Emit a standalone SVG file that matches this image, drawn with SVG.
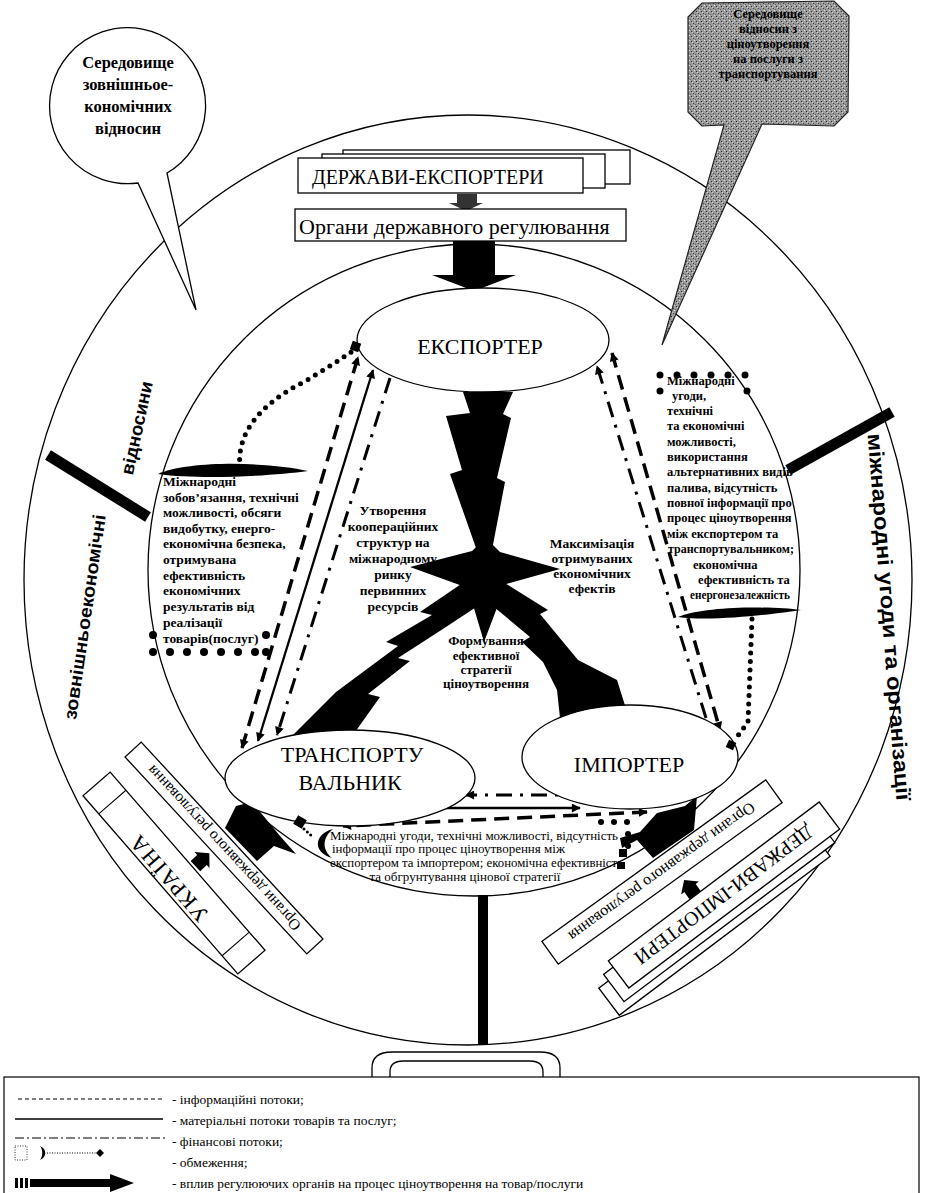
<svg xmlns="http://www.w3.org/2000/svg" width="925" height="1193" viewBox="0 0 925 1193">
<defs>
<style>
.ring{fill:none;stroke:#000;stroke-width:1.3}
.box{fill:#fff;stroke:#000;stroke-width:1.3}
.node{fill:#fff;stroke:#000;stroke-width:1.3}
.s{font-family:"Liberation Serif","Times New Roman",serif;fill:#000}
.b{font-weight:bold}
.sans{font-family:"Liberation Sans",Arial,sans-serif;font-weight:bold;fill:#000}
.info{fill:none;stroke:#000;stroke-width:3.5;stroke-dasharray:15 8}
.mat{fill:none;stroke:#000;stroke-width:2.3}
.fin{fill:none;stroke:#000;stroke-width:3;stroke-dasharray:16 8 3 8}
.dots{fill:none;stroke:#000;stroke-width:5;stroke-linecap:round;stroke-dasharray:0 8.5}
.blk{fill:#000}
.thin{fill:none;stroke:#000;stroke-width:1}
</style>
<marker id="ah" viewBox="0 0 10 10" refX="9" refY="5" markerWidth="11" markerHeight="9" markerUnits="userSpaceOnUse" orient="auto-start-reverse"><path d="M0,0 L10,5 L0,10 Z" fill="#000"/></marker>
<pattern id="stip" width="5" height="5" patternUnits="userSpaceOnUse"><rect width="5" height="5" fill="#9a9a9a"/><rect x="1" y="1" width="1" height="1" fill="#2a2a2a"/><rect x="3" y="3" width="1" height="1" fill="#444"/><rect x="4" y="0" width="1" height="1" fill="#e0e0e0"/><rect x="0" y="4" width="1" height="1" fill="#666"/><rect x="2" y="2" width="1" height="1" fill="#d0d0d0"/></pattern>
</defs>
<rect width="925" height="1193" fill="#fff"/>

<g id="rings">
<ellipse cx="468" cy="580" rx="444" ry="465" class="ring"/>
<circle cx="474" cy="570" r="326" class="ring"/>
<path d="M48,455 L148,517" stroke="#000" stroke-width="11"/>
<path d="M788,470 L892,412" stroke="#000" stroke-width="11"/>
<rect x="478" y="895" width="10" height="150" class="blk"/>
<text class="sans" font-size="18" text-anchor="middle" textLength="207" lengthAdjust="spacingAndGlyphs" transform="translate(85,617) rotate(-81.7)" x="0" y="6">зовнішньоекономічні</text>
<text class="sans" font-size="18" text-anchor="middle" textLength="95" lengthAdjust="spacingAndGlyphs" transform="translate(137,428) rotate(-77.8)" x="0" y="6">відносини</text>
<text class="sans" font-size="21" text-anchor="middle" textLength="368" lengthAdjust="spacingAndGlyphs" transform="translate(889,617) rotate(85.5)" x="0" y="7">міжнародні угоди та організації</text>
<path d="M372,1078 V1068 Q372,1052 392,1052 H540 Q560,1052 560,1068 V1078" class="ring"/>
<path d="M390,1078 V1072 Q390,1061 403,1061 H530 Q543,1061 543,1072 V1078" class="ring"/>
</g>

<g id="connectors">
<path d="M242,748 L358,357" class="info" marker-start="url(#ah)" marker-end="url(#ah)"/>
<path d="M258,741 L373,370" class="mat" marker-start="url(#ah)" marker-end="url(#ah)"/>
<path d="M390,378 L277,735" class="fin" marker-end="url(#ah)"/>
<path d="M612,353 L720,730" class="info" marker-start="url(#ah)" marker-end="url(#ah)"/>
<path d="M706,718 L597,366" class="fin" marker-end="url(#ah)"/>
<path d="M582,795 L466,795" class="fin" marker-end="url(#ah)"/>
<path d="M446,808 L580,808" class="mat" marker-end="url(#ah)"/>
<path d="M647,812 L343,826" class="info" marker-start="url(#ah)" marker-end="url(#ah)"/>
<polygon points="457,194 477,194 477,203 483,203 466,211 449,203 457,203" fill="#333"/>
<polygon points="453,241 495,241 495,275 516,275 474,291 432,275 453,275" class="blk"/>
<polygon points="236,806 252,802 280,836 296,854 274,846 257,861 225,828" class="blk"/>
<polygon points="657,813 685,806 697,796 694,830 653,858 637,840 622,848 620,838 640,832" class="blk"/>
<polygon transform="translate(202,860) rotate(47)" points="-7,9 7,9 7,0 11,0 0,-10 -11,0 -7,0" class="blk"/>
<polygon transform="translate(690,888) rotate(-36)" points="-7,9 7,9 7,0 11,0 0,-10 -11,0 -7,0" class="blk"/>
</g>

<g id="strategy-bolts">
<polygon points="463,392 513,392 503,414 511,418 497,478 505,482 492,550 476,548 450,474 462,470 446,416 470,413" class="blk"/>
<polygon points="410,567 472,551 486,538 500,552 560,569 506,584 484,642 468,588" class="blk"/>
<polygon points="470,578 420,612 432,615 386,642 398,646 336,692 288,740 348,742 380,697 368,694 410,661 398,658 446,627 505,588" class="blk"/>
<polygon points="500,580 548,610 540,614 578,660 617,680 628,715 560,718 557,690 543,662 522,642 530,637 488,602" class="blk"/>
</g>

<g id="exporter">
<ellipse cx="483" cy="340" rx="126" ry="52" class="node"/>
<text x="480" y="354" font-size="22" text-anchor="middle" class="s">ЕКСПОРТЕР</text>
</g>
<g id="transporter">
<ellipse cx="350" cy="778" rx="125" ry="48" class="node"/>
<text x="352" y="762" font-size="22" text-anchor="middle" class="s">ТРАНСПОРТУ</text>
<text x="350" y="790" font-size="22" text-anchor="middle" class="s">ВАЛЬНИК</text>
</g>
<g id="importer">
<ellipse cx="630" cy="757" rx="108" ry="52" class="node"/>
<text x="629" y="772" font-size="22" text-anchor="middle" class="s">ІМПОРТЕР</text>
</g>

<g id="states-exporters">
<rect x="343" y="150" width="287" height="34" class="box"/>
<rect x="322" y="154" width="283" height="34" class="box"/>
<rect x="298" y="158" width="285" height="35" class="box"/>
<text x="312" y="184" font-size="20" class="s">ДЕРЖАВИ-ЕКСПОРТЕРИ</text>
</g>
<g id="regulators-exporters">
<rect x="295" y="209" width="331" height="32" class="box"/>
<text x="299" y="234" font-size="22" class="s">Органи державного регулювання</text>
</g>
<g id="regulators-ukraine" transform="translate(224,848) rotate(47.3)">
<rect x="-134" y="-11" width="268" height="22" class="box"/>
<text transform="rotate(180)" x="0" y="5" font-size="15.5" text-anchor="middle" class="s">Органи державного регулювання</text>
</g>
<g id="ukraine" transform="translate(174,873) rotate(49)">
<rect x="-118" y="-18" width="236" height="36" class="box"/>
<path d="M-94,-18 V18 M94,-18 V18" class="thin"/>
<text transform="rotate(180)" x="0" y="0" font-size="22" letter-spacing="2" text-anchor="middle" class="s">УКРАЇНА</text>
</g>
<g id="regulators-importers" transform="translate(662,872) rotate(-35.8)">
<rect x="-138" y="-14" width="276" height="28" class="box"/>
<text transform="rotate(180)" x="0" y="5.5" font-size="16" text-anchor="middle" class="s">Органи державного регулювання</text>
</g>
<g id="states-importers" transform="translate(724,895) rotate(-37)">
<rect x="-156" y="-1" width="264" height="34" class="box"/>
<rect x="-144" y="-9" width="264" height="34" class="box"/>
<rect x="-132" y="-17" width="264" height="34" class="box"/>
<text transform="rotate(180)" x="0" y="7" font-size="20" text-anchor="middle" class="s">ДЕРЖАВИ-ІМПОРТЕРИ</text>
</g>

<g id="restrictions">
<path d="M158,474 C190,460 270,462 308,471 C272,476 200,480 158,474 Z" class="blk"/>
<path d="M240,468 C236,432 262,404 300,384 C325,370 345,356 356,349" class="dots"/>
<rect x="351" y="342" width="9" height="9" class="blk" transform="rotate(20 355.5 346.5)"/>
<g class="blk">
<circle cx="153" cy="652" r="4"/><circle cx="170" cy="652" r="4"/><circle cx="187" cy="652" r="4"/><circle cx="204" cy="652" r="4"/><circle cx="221" cy="652" r="4"/><circle cx="238" cy="652" r="4"/><circle cx="255" cy="652" r="4"/><circle cx="266" cy="652" r="4"/><circle cx="153" cy="635" r="4"/><circle cx="266" cy="635" r="4"/>
<circle cx="660" cy="375" r="3.5"/><circle cx="677" cy="375" r="3.5"/><circle cx="694" cy="375" r="3.5"/><circle cx="711" cy="375" r="3.5"/><circle cx="728" cy="375" r="3.5"/><circle cx="745" cy="375" r="3.5"/><circle cx="660" cy="391" r="3.5"/><circle cx="747" cy="391" r="3.5"/>
<circle cx="601" cy="822" r="3"/><circle cx="614" cy="822" r="3"/><circle cx="627" cy="822" r="3"/><circle cx="628" cy="834" r="3"/><circle cx="628" cy="846" r="3"/>
</g>
<path d="M678,617 C705,606 770,606 801,610 C775,614 712,622 678,617 Z" class="blk"/>
<path d="M752,619 L748,722 L734,741" class="dots"/>
<rect x="727" y="741" width="8" height="8" class="blk" transform="rotate(25 731 745)"/>
<rect x="295" y="817" width="10" height="10" class="blk" transform="rotate(30 300 822)"/>
<path d="M304,829 L314,838" fill="none" stroke="#000" stroke-width="3" stroke-linecap="round" stroke-dasharray="0 4.5"/>
<path d="M333,829 C314,834 312,852 332,858 C322,850 322,838 333,829 Z" class="blk"/>
<rect x="619" y="849" width="8" height="8" class="blk"/>
<rect x="617" y="862" width="8" height="7" class="blk"/>
</g>

<g id="label-left" class="s b" font-size="13.5">
<text x="163" y="486">Міжнародні</text>
<text x="163" y="502">зобов’язання, технічні</text>
<text x="163" y="517">можливості, обсяги</text>
<text x="163" y="533">видобутку, енерго-</text>
<text x="163" y="548">економічна безпека,</text>
<text x="163" y="564">отримувана</text>
<text x="163" y="580">ефективність</text>
<text x="163" y="595">економічних</text>
<text x="163" y="611">результатів від</text>
<text x="163" y="627">реалізації</text>
<text x="163" y="643">товарів(послуг)</text>
</g>
<g id="label-right" class="s b" font-size="12.5">
<text x="667" y="385">Міжнародні</text>
<text x="672" y="400">угоди,</text>
<text x="667" y="415">технічні</text>
<text x="667" y="430">та економічні</text>
<text x="667" y="446">можливості,</text>
<text x="667" y="461">використання</text>
<text x="667" y="476">альтернативних видів</text>
<text x="667" y="492">палива, відсутність</text>
<text x="667" y="507">повної інформації про</text>
<text x="667" y="522">процес ціноутворення</text>
<text x="667" y="538">між експортером та</text>
<text x="668" y="553" textLength="126" lengthAdjust="spacingAndGlyphs">транспортувальником;</text>
<text x="693" y="569">економічна</text>
<text x="698" y="584">ефективність та</text>
<text x="690" y="599" textLength="100" lengthAdjust="spacingAndGlyphs">енергонезалежність</text>
</g>
<g id="label-cooperation" class="s b" font-size="13.5" text-anchor="middle">
<text x="393" y="515">Утворення</text>
<text x="393" y="531">кооперацiйних</text>
<text x="393" y="547">структур  на</text>
<text x="393" y="563">міжнародному</text>
<text x="393" y="579">ринку</text>
<text x="393" y="595">первинних</text>
<text x="393" y="611">ресурсів</text>
</g>
<g id="label-maximization" class="s b" font-size="13.5" text-anchor="middle">
<text x="592" y="548">Максимізація</text>
<text x="592" y="563">отримуваних</text>
<text x="592" y="578">економічних</text>
<text x="592" y="593">ефектів</text>
</g>
<g id="label-strategy" class="s b" font-size="13" text-anchor="middle">
<text x="486" y="645">Формування</text>
<text x="486" y="660">ефективної</text>
<text x="486" y="674">стратегії</text>
<text x="486" y="688">ціноутворення</text>
</g>
<g id="label-bottom" class="s" font-size="13">
<text x="330" y="840" textLength="288" lengthAdjust="spacingAndGlyphs">Міжнародні угоди, технічні можливості, відсутність</text>
<text x="332" y="853">інформації про процес ціноутворення  між</text>
<text x="330" y="867" textLength="293" lengthAdjust="spacingAndGlyphs">експортером та імпортером; економічна ефективність</text>
<text x="465" y="881" text-anchor="middle">та обгрунтування цінової стратегії</text>
</g>

<g id="bubble-external">
<path d="M167,173 A78,78 0 1,0 138,183 L196,310 Z" fill="#fff" stroke="#000" stroke-width="1.3"/>
<g class="s b" font-size="16.5" text-anchor="middle">
<text x="128" y="68">Середовище</text>
<text x="128" y="90">зовнішньое-</text>
<text x="128" y="112">кономічних</text>
<text x="128" y="134">відносин</text>
</g>
</g>
<g id="bubble-pricing">
<path d="M702,3 L834,1 L849,16 L848,112 L834,126 L762,124 L662,345 L724,125 L702,126 L688,112 L688,17 Z" fill="url(#stip)" stroke="#222" stroke-width="1.2"/>
<g class="s b" font-size="12.5" text-anchor="middle" fill="#111">
<text x="768" y="18">Середовище</text>
<text x="768" y="33">відносин з</text>
<text x="768" y="48">ціноутворення</text>
<text x="768" y="63">на послуги з</text>
<text x="768" y="78">транспортування</text>
</g>
</g>

<g id="legend">
<rect x="4" y="1077" width="915" height="130" fill="#fff" stroke="#000" stroke-width="1.2"/>
<path d="M18,1099 H165" fill="none" stroke="#000" stroke-width="1" stroke-dasharray="4 3"/>
<path d="M15,1119 H163" fill="none" stroke="#000" stroke-width="1.5"/>
<path d="M15,1138 H165" fill="none" stroke="#000" stroke-width="1" stroke-dasharray="9 3 2 3"/>
<rect x="15" y="1146" width="12" height="14" fill="none" stroke="#000" stroke-width="0.8" stroke-dasharray="1 1.5"/>
<path d="M40,1146 C47,1149 47,1157 40,1160 C43,1156 43,1150 40,1146 Z" class="blk"/>
<path d="M47,1153 H96" fill="none" stroke="#000" stroke-width="1" stroke-dasharray="1 1.5"/>
<path d="M100,1149 L104,1153 L100,1157 L96,1153 Z" class="blk"/>
<rect x="15" y="1178" width="3" height="10" class="blk"/>
<rect x="20" y="1178" width="3" height="10" class="blk"/>
<rect x="25" y="1178" width="3" height="10" class="blk"/>
<rect x="30" y="1179" width="82" height="8" class="blk"/>
<path d="M110,1174 L134,1183 L110,1192 Z" class="blk"/>
<g class="s" font-size="13.5">
<text x="172" y="1104">- інформаційні потоки;</text>
<text x="172" y="1125">- матеріальні потоки товарів та послуг;</text>
<text x="172" y="1146">- фінансові потоки;</text>
<text x="172" y="1167">- обмеження;</text>
<text x="172" y="1188">- вплив регулюючих органів на процес ціноутворення на товар/послуги</text>
</g>
</g>
</svg>
